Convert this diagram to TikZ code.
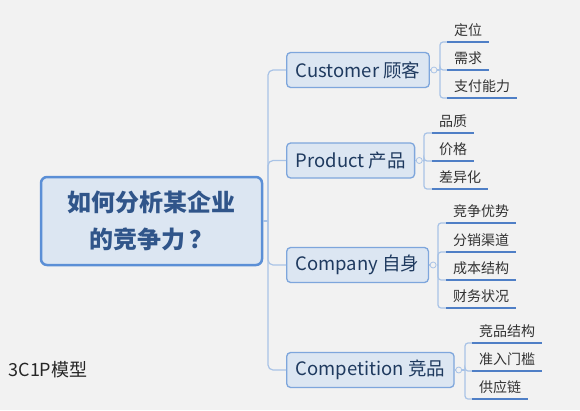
\documentclass[tikz,border=0pt]{standalone}
\usepackage{fontspec}
\setmainfont{Noto Sans CJK SC}
\definecolor{bg}{HTML}{F2F2F2}
\definecolor{nodefill}{HTML}{DCE6F2}
\definecolor{rootline}{HTML}{5B8FD6}
\definecolor{topicline}{HTML}{7EA6DC}
\definecolor{roottext}{HTML}{30558A}
\definecolor{topictext}{HTML}{1F3A5F}
\definecolor{subtext}{HTML}{333333}
\definecolor{limb}{HTML}{A9C3E6}
\definecolor{uline}{HTML}{4F7FC6}
\tikzset{
  root/.style={draw=rootline, line width=2.5pt, fill=nodefill, rounded corners=6pt,
    minimum width=221pt, minimum height=88pt, align=center, text=roottext,
    font=\bfseries\fontsize{24}{37}\selectfont},
  topic/.style={draw=topicline, line width=1.3pt, fill=nodefill, rounded corners=4pt,
    anchor=west, minimum height=35pt, inner xsep=9pt, text=topictext,
    font=\fontsize{18.5}{20}\selectfont},
  sub/.style={anchor=south west, inner xsep=7pt, inner ysep=5pt, text=subtext,
    font=\fontsize{14}{16}\selectfont},
  knob/.style={circle, draw=limb, fill=bg, line width=0.8pt, inner sep=0pt, minimum size=6pt},
  limbline/.style={draw=limb, line width=1.2pt, rounded corners=5pt},
  twig/.style={draw=limb, line width=1.2pt, rounded corners=3pt},
  leafline/.style={draw=uline, line width=2pt}
}
\begin{document}
\begin{tikzpicture}[x=1pt,y=-1pt]
\fill[bg] (0,0) rectangle (580,410);
\useasboundingbox (0,0) rectangle (580,410);

\node[root] (q) at (151.5,221) {如何分析某企业\\的竞争力\hspace{5pt}？};
\node[anchor=west, text=black!85, font=\fontsize{18}{20}\selectfont] (model) at (5,370) {3C1P模型};

\coordinate (hub) at (268,221);
\node[topic] (cust) at (286,70) {Customer 顾客};
\node[topic] (prod) at (286,160.5) {Product 产品};
\node[topic] (comp) at (286,265) {Company 自身};
\node[topic] (rival) at (286,370) {Competition 竞品};
\draw[limbline] (q.east) -- (hub);
\draw[limbline] (hub) |- (cust.west);
\draw[limbline] (hub) |- (prod.west);
\draw[limbline] (hub) |- (comp.west);
\draw[limbline] (hub) |- (rival.west);

% Customer
\node[knob] (k1) at (cust.east) [xshift=4pt] {};
\coordinate (t1) at (440,70);
\draw[twig] (cust.east) -- (k1.west);
\draw[twig] (k1.east) -- (t1);
\node[sub] (c1) at (447,42) {定位};
\node[sub] (c2) at (447,70) {需求};
\node[sub] (c3) at (447,98) {支付能力};
\draw[twig] (t1) |- (c1.south west);
\draw[twig] (t1) |- (c2.south west);
\draw[twig] (t1) |- (c3.south west);
\draw[leafline] (c1.south west) -- (c1.south east);
\draw[leafline] (c2.south west) -- (c2.south east);
\draw[leafline] (c3.south west) -- (c3.south east);

% Product
\node[knob] (k2) at (prod.east) [xshift=4pt] {};
\coordinate (t2) at (424,161);
\draw[twig] (prod.east) -- (k2.west);
\draw[twig] (k2.east) -- (t2);
\node[sub] (p1) at (432,133) {品质};
\node[sub] (p2) at (432,161) {价格};
\node[sub] (p3) at (432,189) {差异化};
\draw[twig] (t2) |- (p1.south west);
\draw[twig] (t2) |- (p2.south west);
\draw[twig] (t2) |- (p3.south west);
\draw[leafline] (p1.south west) -- (p1.south east);
\draw[leafline] (p2.south west) -- (p2.south east);
\draw[leafline] (p3.south west) -- (p3.south east);

% Company
\node[knob] (k3) at (comp.east) [xshift=4pt] {};
\coordinate (t3) at (438,265);
\draw[twig] (comp.east) -- (k3.west);
\draw[twig] (k3.east) -- (t3);
\node[sub] (s1) at (446,223) {竞争优势};
\node[sub] (s2) at (446,252) {分销渠道};
\node[sub] (s3) at (446,280) {成本结构};
\node[sub] (s4) at (446,308) {财务状况};
\draw[twig] (t3) |- (s1.south west);
\draw[twig] (t3) |- (s2.south west);
\draw[twig] (t3) |- (s3.south west);
\draw[twig] (t3) |- (s4.south west);
\draw[leafline] (s1.south west) -- (s1.south east);
\draw[leafline] (s2.south west) -- (s2.south east);
\draw[leafline] (s3.south west) -- (s3.south east);
\draw[leafline] (s4.south west) -- (s4.south east);

% Competition
\node[knob] (k4) at (rival.east) [xshift=4pt] {};
\coordinate (t4) at (465,370);
\draw[twig] (rival.east) -- (k4.west);
\draw[twig] (k4.east) -- (t4);
\node[sub] (r1) at (472,343) {竞品结构};
\node[sub] (r2) at (472,371) {准入门槛};
\node[sub] (r3) at (472,399) {供应链};
\draw[twig] (t4) |- (r1.south west);
\draw[twig] (t4) |- (r2.south west);
\draw[twig] (t4) |- (r3.south west);
\draw[leafline] (r1.south west) -- (r1.south east);
\draw[leafline] (r2.south west) -- (r2.south east);
\draw[leafline] (r3.south west) -- (r3.south east);
\end{tikzpicture}
\end{document}
